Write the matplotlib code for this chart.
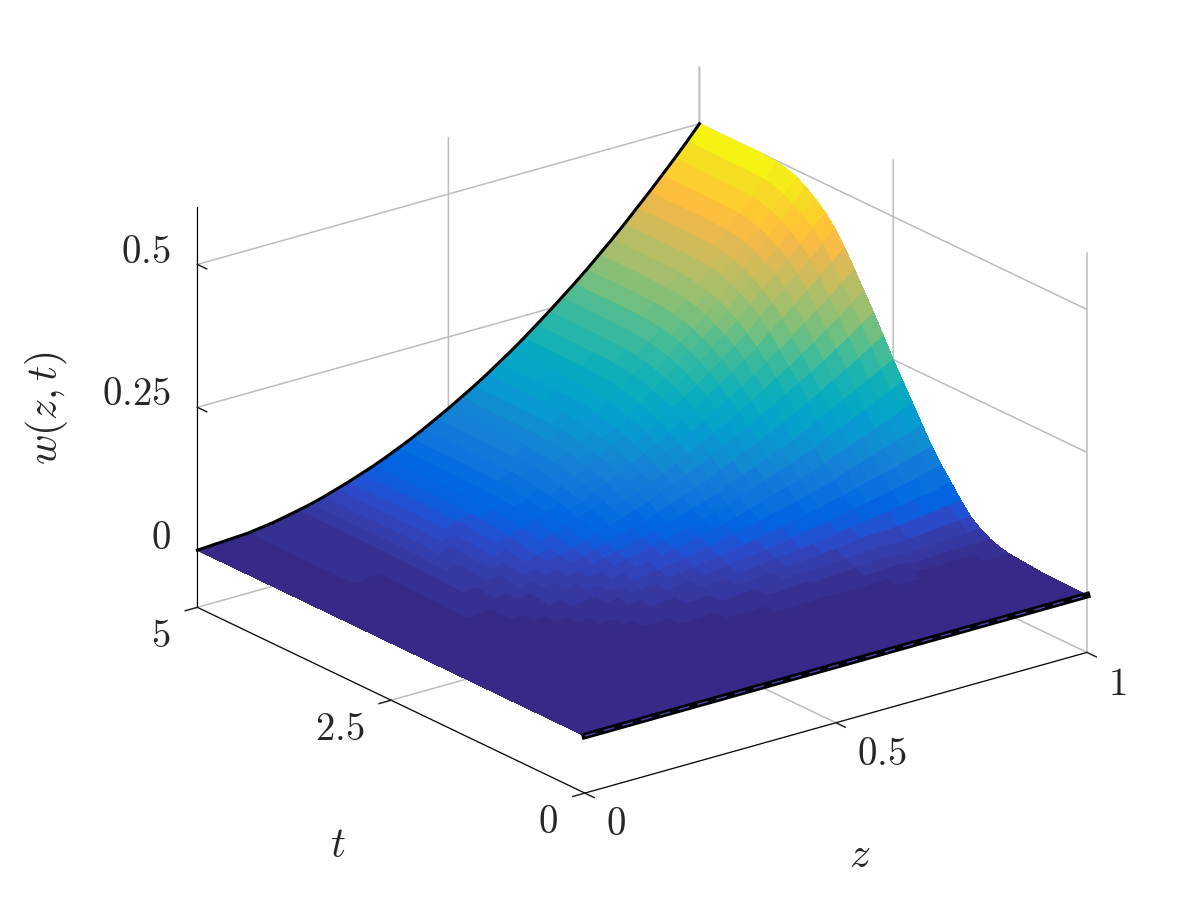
import numpy as np
import matplotlib
matplotlib.use("Agg")
import matplotlib.pyplot as plt
from matplotlib.colors import ListedColormap

# values
z_vals = [0, .1, .15, .2, .225, .25, .275, .3, .325, .35, .375, .4, .425, .45, .475, .5, .525, .55,
          .575, .6, .625, .65, .675, .7, .725, .75, .775, .8, .825, .85, .875, .9, .925, .95, .975, 1]
t_vals = [0, .5, .75, 1, 1.125, 1.25, 1.375, 1.5, 1.625, 1.75, 1.875, 2, 2.125, 2.25, 2.375, 2.5,
          2.625, 2.75, 2.875, 3, 3.125, 3.25, 3.375, 3.5, 3.625, 3.75, 3.875, 4, 4.125, 4.25, 4.5, 5]

# one row per z, one column per t
w_vals = [
    [0] * 32,
    [0,0,0,0,0,0,0,.001,.001,.001,.001,.001,.002,.002,.002,.002,.003,.003,.003,.004,.004,.004,.004,.005,.005,.005,.005,.005,.005,.005,.005,.005],
    [0,0,0,0,0,.001,.001,.001,.002,.002,.002,.003,.003,.004,.005,.005,.006,.007,.008,.008,.009,.009,.010,.010,.011,.011,.011,.011,.011,.011,.011,.011],
    [0,0,0,.001,.001,.001,.002,.002,.003,.003,.004,.005,.006,.007,.008,.010,.011,.013,.014,.015,.016,.017,.018,.018,.019,.019,.020,.020,.020,.020,.020,.020],
    [0,0,0,.001,.001,.002,.002,.003,.003,.004,.005,.006,.008,.009,.011,.012,.014,.016,.017,.019,.020,.021,.022,.023,.024,.024,.025,.025,.025,.025,.025,.025],
    [0,0,0,.001,.001,.002,.003,.003,.004,.005,.006,.008,.009,.011,.013,.015,.017,.020,.022,.023,.025,.026,.028,.028,.029,.030,.030,.031,.031,.031,.031,.031],
    [0,0,0,.001,.002,.002,.003,.004,.005,.006,.008,.009,.011,.014,.016,.018,.021,.024,.026,.028,.030,.032,.033,.034,.036,.036,.037,.037,.037,.038,.038,.038],
    [0,0,0,.001,.002,.003,.004,.005,.006,.007,.009,.011,.014,.016,.019,.022,.025,.028,.031,.033,.036,.038,.040,.041,.042,.043,.044,.044,.045,.045,.045,.045],
    [0,0,.001,.002,.002,.003,.004,.006,.007,.009,.011,.013,.016,.019,.022,.025,.029,.033,.036,.039,.042,.044,.046,.048,.050,.051,.051,.052,.052,.053,.053,.053],
    [0,0,.001,.002,.003,.004,.005,.007,.008,.010,.013,.015,.018,.022,.026,.029,.034,.039,.042,.045,.048,.051,.054,.056,.058,.059,.060,.060,.061,.061,.061,.061],
    [0,0,.001,.002,.003,.004,.006,.008,.009,.012,.014,.018,.021,.025,.030,.034,.039,.044,.049,.052,.056,.059,.062,.064,.066,.067,.069,.069,.070,.070,.070,.070],
    [0,0,.001,.002,.003,.005,.007,.009,.011,.013,.016,.020,.024,.029,.034,.038,.044,.050,.055,.059,.063,.067,.070,.073,.075,.077,.078,.079,.079,.080,.080,.080],
    [0,0,.001,.003,.004,.005,.007,.010,.012,.015,.019,.023,.027,.033,.038,.043,.050,.057,.062,.067,.071,.076,.079,.082,.085,.087,.088,.089,.089,.090,.090,.090],
    [0,0,.001,.003,.004,.006,.008,.011,.014,.017,.021,.025,.030,.036,.043,.049,.056,.064,.070,.075,.080,.085,.089,.092,.095,.097,.099,.100,.100,.101,.101,.101],
    [0,0,.001,.003,.005,.007,.009,.012,.015,.019,.023,.028,.034,.041,.047,.054,.063,.071,.078,.083,.089,.095,.099,.103,.106,.108,.110,.111,.112,.112,.113,.113],
    [0,0,.001,.004,.005,.008,.010,.014,.017,.021,.026,.031,.038,.045,.053,.060,.069,.079,.086,.093,.099,.105,.110,.114,.118,.120,.122,.123,.124,.124,.125,.125],
    [0,0,.001,.004,.006,.008,.011,.015,.019,.023,.028,.034,.041,.050,.058,.066,.076,.087,.095,.102,.109,.116,.121,.125,.130,.132,.134,.136,.137,.137,.138,.138],
    [0,0,.002,.005,.007,.009,.013,.017,.020,.025,.031,.038,.045,.054,.064,.073,.084,.095,.104,.112,.119,.127,.133,.138,.142,.145,.147,.149,.150,.150,.151,.151],
    [0,0,.002,.005,.007,.010,.014,.018,.022,.027,.034,.041,.050,.060,.069,.079,.092,.104,.114,.122,.131,.139,.145,.150,.155,.159,.161,.163,.164,.164,.165,.165],
    [0,.001,.002,.005,.008,.011,.015,.020,.024,.030,.037,.045,.054,.065,.076,.086,.100,.113,.124,.133,.142,.151,.158,.164,.169,.173,.176,.177,.178,.179,.180,.180],
    [0,.001,.002,.006,.008,.012,.016,.021,.026,.032,.040,.049,.059,.070,.082,.094,.108,.123,.135,.145,.154,.164,.172,.178,.184,.187,.190,.192,.194,.194,.195,.195],
    [0,.001,.002,.006,.009,.013,.018,.023,.029,.035,.043,.053,.063,.076,.089,.101,.117,.133,.146,.156,.167,.177,.186,.192,.199,.203,.206,.208,.209,.210,.211,.211],
    [0,.001,.002,.005,.007,.011,.015,.022,.029,.038,.047,.058,.071,.084,.098,.112,.128,.144,.157,.170,.182,.194,.203,.210,.216,.221,.223,.226,.227,.227,.228,.228],
    [0,.001,.002,.005,.008,.012,.017,.023,.031,.040,.051,.062,.076,.091,.105,.120,.137,.154,.169,.183,.196,.208,.218,.225,.232,.237,.240,.243,.244,.245,.245,.245],
    [0,.001,.002,.006,.008,.012,.018,.025,.034,.043,.055,.067,.081,.097,.113,.129,.147,.166,.181,.196,.210,.223,.234,.242,.249,.254,.258,.260,.261,.262,.263,.263],
    [0,.001,.002,.006,.009,.013,.019,.027,.036,.046,.059,.072,.087,.104,.121,.138,.158,.177,.194,.210,.225,.239,.250,.259,.267,.272,.276,.278,.280,.281,.281,.281],
    [0,.001,.003,.006,.010,.014,.020,.029,.038,.050,.062,.077,.093,.111,.129,.147,.168,.189,.207,.224,.240,.255,.267,.276,.285,.291,.295,.297,.299,.300,.300,.300],
    [0,.001,.003,.006,.010,.015,.022,.030,.041,.053,.067,.082,.099,.118,.138,.157,.179,.202,.221,.238,.256,.272,.285,.294,.303,.310,.314,.317,.318,.319,.320,.320],
    [0,.001,.003,.006,.011,.016,.023,.032,.044,.056,.071,.087,.105,.126,.146,.167,.191,.214,.235,.254,.272,.289,.303,.313,.323,.329,.334,.337,.339,.340,.340,.340],
    [0,.001,.003,.006,.008,.012,.019,.029,.043,.060,.076,.094,.116,.137,.159,.181,.204,.228,.249,.271,.293,.311,.325,.336,.345,.352,.357,.359,.361,.361,.361,.361],
    [0,.001,.003,.006,.008,.013,.020,.031,.046,.063,.080,.100,.122,.145,.168,.191,.216,.241,.264,.287,.310,.329,.345,.356,.366,.373,.378,.381,.382,.383,.383,.383],
    [0,.001,.003,.006,.009,.014,.021,.032,.049,.067,.085,.105,.130,.154,.178,.203,.229,.255,.279,.304,.328,.348,.365,.377,.387,.395,.400,.403,.404,.405,.405,.405],
    [0,.001,.003,.006,.009,.015,.023,.034,.051,.071,.090,.111,.137,.163,.188,.214,.242,.270,.295,.321,.347,.368,.385,.398,.409,.417,.422,.426,.427,.428,.428,.428],
    [0,.001,.003,.006,.009,.015,.024,.036,.054,.074,.095,.117,.144,.171,.199,.226,.255,.284,.311,.338,.366,.388,.406,.420,.431,.440,.445,.449,.450,.451,.451,.451],
    [0,.001,.003,.007,.010,.016,.025,.038,.057,.078,.100,.124,.152,.181,.209,.238,.269,.299,.328,.356,.385,.409,.428,.442,.454,.463,.469,.473,.474,.475,.475,.475],
    [0,.001,.004,.007,.011,.017,.027,.040,.060,.083,.105,.130,.160,.190,.220,.250,.283,.315,.345,.375,.405,.430,.450,.465,.478,.488,.494,.498,.499,.500,.500,.500],
]

z_ticks = [0, .5, 1]
z_ticklabels = ['$0$', '$0.5$', '$1$']
t_ticks = [0, 2.5, 5]
t_ticklabels = ['$0$', '$2.5$', '$5$']
w_ticks = [0, .25, .5]
w_ticklabels = ['$0$', '$0.25$', '$0.5$']

# parula
parula = ListedColormap([
    (.2081, .1663, .5292), (.2116, .1898, .5777), (.2123, .2138, .6270), (.2081, .2386, .6771),
    (.1959, .2645, .7279), (.1707, .2919, .7792), (.1253, .3242, .8303), (.0591, .3598, .8683),
    (.0117, .3875, .8820), (.0060, .4086, .8828), (.0165, .4266, .8786), (.0329, .4430, .8720),
    (.0498, .4586, .8641), (.0629, .4737, .8554), (.0723, .4887, .8467), (.0779, .5040, .8384),
    (.0793, .5200, .8312), (.0749, .5375, .8263), (.0641, .5570, .8240), (.0488, .5772, .8228),
    (.0343, .5966, .8199), (.0265, .6137, .8135), (.0239, .6287, .8038), (.0231, .6418, .7913),
    (.0228, .6535, .7768), (.0267, .6642, .7607), (.0384, .6743, .7436), (.0590, .6838, .7254),
    (.0843, .6928, .7062), (.1133, .7015, .6859), (.1453, .7098, .6646), (.1801, .7177, .6424),
    (.2178, .7250, .6193), (.2586, .7317, .5954), (.3022, .7376, .5712), (.3482, .7424, .5473),
    (.3953, .7459, .5244), (.4420, .7481, .5033), (.4871, .7491, .4840), (.5300, .7491, .4661),
    (.5709, .7485, .4494), (.6099, .7473, .4337), (.6473, .7456, .4188), (.6834, .7435, .4044),
    (.7184, .7411, .3905), (.7525, .7384, .3768), (.7858, .7356, .3633), (.8185, .7327, .3498),
    (.8507, .7299, .3360), (.8824, .7274, .3217), (.9139, .7258, .3063), (.9450, .7261, .2886),
    (.9739, .7314, .2666), (.9938, .7455, .2403), (.9990, .7653, .2164), (.9955, .7861, .1967),
    (.9880, .8066, .1794), (.9789, .8271, .1633), (.9697, .8481, .1475), (.9626, .8705, .1309),
    (.9589, .8949, .1132), (.9598, .9218, .0948), (.9661, .9514, .0755), (.9763, .9831, .0538),
])

plt.rcParams['mathtext.fontset'] = 'cm'
dark = '#262626'

z_arr = np.array(z_vals)
t_arr = np.array(t_vals)
w_arr = np.array(w_vals)
Z, T = np.meshgrid(z_arr, t_arr, indexing='ij')

fig = plt.figure(figsize=(12, 9), dpi=100)
ax = fig.add_axes([.025, .0089, 1, 1], projection='3d', proj_type='ortho', computed_zorder=False)
ax.view_init(elev=21.5, azim=-127.4)
ax.set_box_aspect((632, 638, 430), zoom=1.074)

surf = ax.plot_surface(Z, T, w_arr, rstride=1, cstride=1, cmap=parula, vmin=0, vmax=.5,
                       linewidth=0, antialiased=False, shade=False, zorder=1)
surf.set_clip_on(False)  # the axes square stops short of the right corner

# edges of the surface
ax.plot(z_arr, t_arr[-1] * np.ones(len(z_arr)), w_arr[:, -1], color='k', lw=2.2, zorder=5,
        solid_capstyle='projecting', clip_on=False)
ax.plot(z_arr, t_arr[0] * np.ones(len(z_arr)), w_arr[:, 0], color='k', lw=4.8, zorder=5,
        solid_capstyle='projecting', clip_on=False)
ax.plot(z_arr, t_arr[0] * np.ones(len(z_arr)), w_arr[:, 0], color='#4848b0', lw=1, ls=(0, (8, 6)),
        zorder=6, clip_on=False)

ax.set_xlim(0, 1, view_margin=0)
ax.set_ylim(0, 5, view_margin=0)
ax.set_zlim(-.1, .6, view_margin=0)

ax.set_xticks(z_ticks, z_ticklabels)
ax.set_yticks(t_ticks, t_ticklabels)
ax.set_zticks(w_ticks, [''] * len(w_ticks))

for axis in (ax.xaxis, ax.yaxis, ax.zaxis):
    axis.set_pane_color((1, 1, 1, 0))
    axis.pane.set_edgecolor('none')
    axis._axinfo['grid'].update(color='#bcbcbc', linewidth=1.1)
    axis._axinfo['axisline']['color'] = dark
    axis._axinfo['axisline']['linewidth'] = 1.1
    axis._axinfo['tick'].update(inward_factor=.3, outward_factor=0)
    axis._axinfo['tick']['linewidth'] = {True: 1.1, False: 1.1}
    axis.set_tick_params(labelsize=28, labelcolor=dark, color=dark, pad=10)

# w ticks run along the t direction here
ax.zaxis._get_tickdir = lambda pos: 1

for tick in ax.xaxis.get_major_ticks():
    tick.label1.set_ha('left')
    tick.label1.set_va('center')
for tick in ax.yaxis.get_major_ticks():
    tick.label1.set_ha('right')
    tick.label1.set_va('center')

# w tick labels sit up and to the left of their ticks
for label, y in zip(w_ticklabels, [538, 394, 252]):
    fig.text(171 / 1200, 1 - y / 900, label, fontsize=28, color=dark, ha='right', va='center')

fig.text(860 / 1200, 1 - 855 / 900, '$z$', fontsize=30, color=dark, ha='center', va='center')
fig.text(338 / 1200, 1 - 845 / 900, '$t$', fontsize=30, color=dark, ha='center', va='center')
fig.text(47 / 1200, 1 - 408 / 900, '$w(z,t)$', fontsize=30, color=dark, ha='center', va='center', rotation=90)

fig.savefig('out.png', dpi=100)
